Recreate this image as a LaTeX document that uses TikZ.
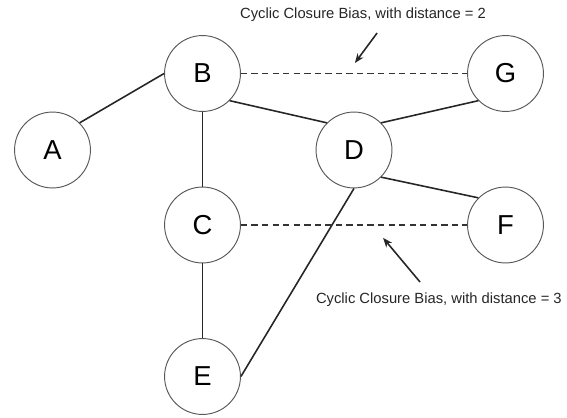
\documentclass[tikz,border=0pt]{standalone}
\usepackage{fontspec}
\setmainfont{Liberation Sans}
\usetikzlibrary{arrows.meta}
\tikzset{
    vertex/.style={circle, draw=black!65, line width=0.9pt, minimum size=2.53cm, inner sep=0pt, font=\fontsize{26}{30}\selectfont},
    edge/.style={line width=1.5pt, black!85},
    bias/.style={line width=1.3pt, black!80, dash pattern=on 6pt off 4pt},
    note/.style={font=\fontsize{14}{17}\selectfont, text=black!85},
    pointer/.style={line width=1.5pt, black!85, -{Stealth[length=9pt, width=7pt]}}
}
\begin{document}
\begin{tikzpicture}
            \useasboundingbox (0,0) rectangle (18.9,13.9);
            % graph vertices
            \node [vertex] (a) at (1.75,8.9) {A};
            \node [vertex] (b) at (6.75,11.45) {B};
            \node [vertex] (g) at (16.85,11.45) {G};
            \node [vertex] (d) at (11.8,8.9) {D};
            \node [vertex] (c) at (6.75,6.4) {C};
            \node [vertex] (f) at (16.85,6.4) {F};
            \node [vertex] (e) at (6.75,1.35) {E};
            % edges
            \draw [edge] (a.north east) -- (b.west);
            \draw [edge] (b.south) -- (c.north);
            \draw [edge] (c.south) -- (e.north);
            \draw [edge] (b.south east) -- (d.north west);
            \draw [edge] (d.north east) -- (g.south west);
            \draw [edge] (d.south east) -- (f.north west);
            \draw [edge] (d.south) -- (e.east);
            % cyclic closure
            \draw [bias] (b.east) -- (g.west);
            \draw [bias] (c.east) -- (f.west);
            \node [note] (top) at (12.1,13.4) {Cyclic Closure Bias, with distance = 2};
            \node [note] (bot) at (14.63,3.9) {Cyclic Closure Bias, with distance = 3};
            \coordinate (p1) at (12.57,12.8);
            \coordinate (q1) at (11.83,11.8);
            \coordinate (p2) at (14.0,4.5);
            \coordinate (q2) at (12.77,5.97);
            \draw [pointer] (p1) -- (q1);
            \draw [pointer] (p2) -- (q2);
        \end{tikzpicture}
\end{document}
